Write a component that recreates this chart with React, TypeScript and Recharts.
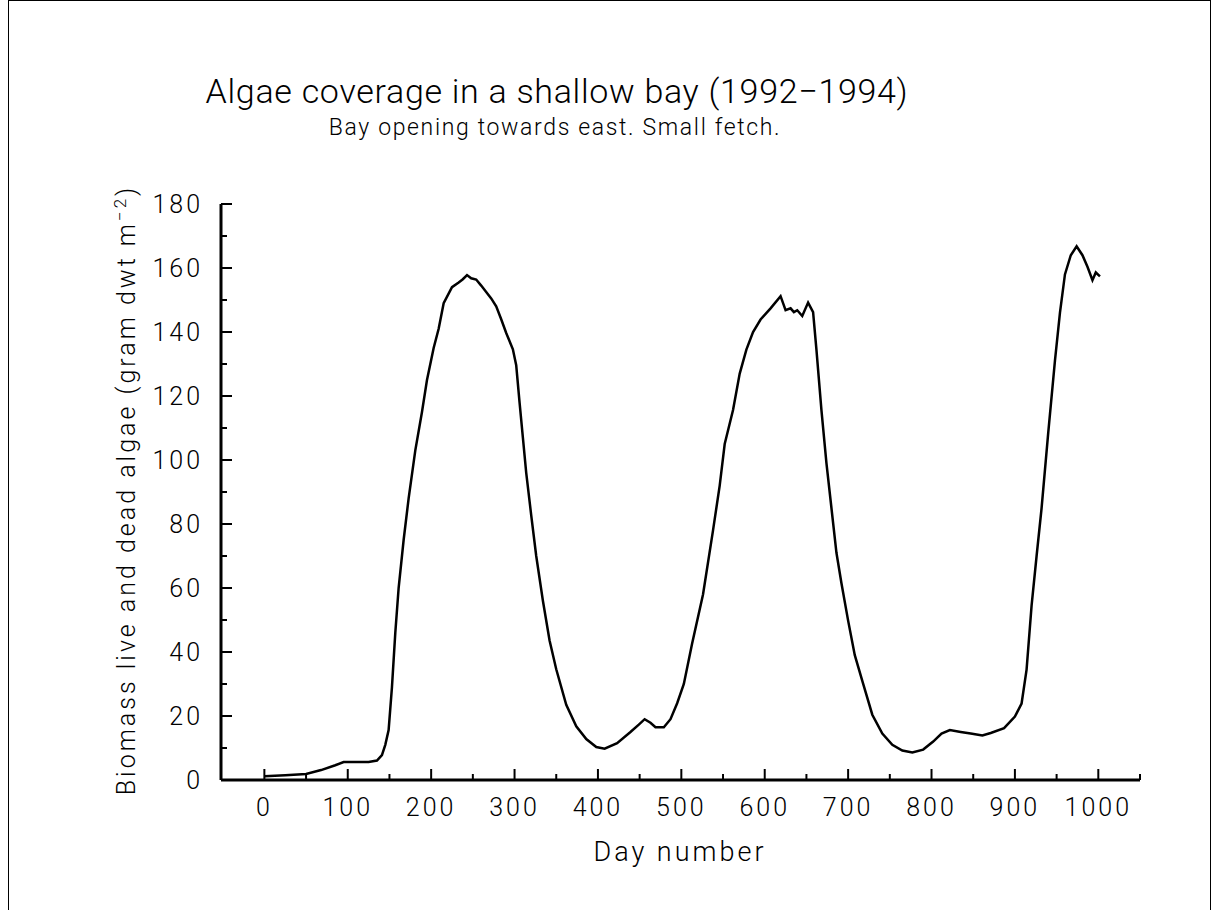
import React from 'react';
import { LineChart, Line, XAxis, YAxis, Label } from 'recharts';

// Model output: total biomass (live + dead algae) per simulation day
const days = [
  0, 25, 50, 68, 85, 95, 110, 125, 135, 141, 145, 149, 153, 157, 161, 167, 173, 181, 189, 195,
  203, 209, 215, 225, 233, 238, 243, 248, 254, 260, 266, 272, 278, 284, 290, 298, 302, 306, 310, 314,
  320, 326, 334, 342, 350, 362, 374, 386, 398, 408, 423, 439, 449, 456, 463, 469, 479, 487, 495, 503,
  513, 526, 538, 546, 552, 562, 570, 578, 586, 595, 607, 619, 625, 631, 635, 639, 645, 652, 658, 662,
  668, 674, 680, 686, 692, 700, 708, 717, 729, 741, 753, 765, 777, 790, 802, 812, 822, 835, 847, 861,
  871, 887, 900, 908, 914, 920, 926, 932, 940, 948, 954, 960, 967, 974, 981, 987, 993, 997, 1002,
];
const biomass = [
  1.2, 1.5, 1.9, 3.1, 4.6, 5.6, 5.6, 5.6, 6.1, 7.8, 11, 15.6, 29, 46, 60, 75, 88, 103, 115, 125,
  135, 141, 149, 154, 155.5, 156.5, 157.8, 156.8, 156.4, 154.5, 152.5, 150.5, 148, 144, 139.7, 134.6, 129.6, 118, 107, 96,
  82.7, 70, 56, 43.6, 34.6, 23.5, 16.8, 12.8, 10.3, 9.8, 11.5, 15, 17.3, 19, 17.9, 16.5, 16.5, 19, 24, 30,
  42.7, 58, 78, 92, 105, 115.6, 127, 134.5, 140, 143.9, 147.4, 151.2, 146.8, 147.4, 146.2, 146.8, 145, 149.2, 146.2, 134.5,
  115.6, 99, 85, 71, 61.5, 49.8, 39, 31, 20.4, 14.5, 11, 9.2, 8.6, 9.5, 12, 14.5, 15.6, 15, 14.5, 13.9,
  14.7, 16.2, 19.8, 23.9, 34.5, 54.5, 70, 85, 108.6, 131, 146, 158, 164, 166.8, 164, 160.4, 156.2, 158.6, 157.4,
];

// every 50 days; labelled every 100
const dayTicks = [0, 50, 100, 150, 200, 250, 300, 350, 400, 450, 500, 550, 600, 650, 700, 750, 800, 850, 900, 950, 1000, 1050];
// every 10; labelled every 20
const biomassTicks = [0, 10, 20, 30, 40, 50, 60, 70, 80, 90, 100, 110, 120, 130, 140, 150, 160, 170, 180];

const rows = days.map((d, i) => ({ day: d, biomass: biomass[i] }));

const FONT = 'Roboto, "DejaVu Sans", sans-serif';

const DayTick = (props: any) => {
  const { x, y, payload } = props;
  const major = payload.value % 100 === 0 && payload.value <= 1000;
  return (
    <g>
      <line x1={x} x2={x} y1={y} y2={y - (major ? 11 : 6)} stroke="#000" strokeWidth={2} />
      {major && (
        <text x={x} y={y + 36} textAnchor="middle" fontFamily={FONT} fontWeight={300} fontSize={25} letterSpacing={3} fill="#000">
          {payload.value}
        </text>
      )}
    </g>
  );
};

const BiomassTick = (props: any) => {
  const { x, y, payload } = props;
  const major = payload.value % 20 === 0;
  return (
    <g>
      <line x1={x} x2={x + (major ? 11 : 6)} y1={y} y2={y} stroke="#000" strokeWidth={2} />
      {major && (
        <text x={x - 18} y={y + 9} textAnchor="end" fontFamily={FONT} fontWeight={300} fontSize={25} letterSpacing={3} fill="#000">
          {payload.value}
        </text>
      )}
    </g>
  );
};

const BiomassLabel = () => (
  <text transform="translate(135,490) rotate(-90)" textAnchor="middle" fontFamily={FONT} fontWeight={300} fontSize={25} letterSpacing={3} fill="#000">
    Biomass live and dead algae (gram dwt m
    <tspan dy={-9} fontSize={17}>−2</tspan>
    <tspan dy={9}>)</tspan>
  </text>
);

const DayLabel = () => (
  <text x={680} y={861} textAnchor="middle" fontFamily={FONT} fontWeight={300} fontSize={27} letterSpacing={3} fill="#000">
    Day number
  </text>
);

export default function App() {
  return (
    <div style={{ position: 'absolute', left: 0, top: 0, width: 1212, height: 910, background: '#fff', overflow: 'hidden' }}>
      <div style={{ position: 'absolute', left: 8, top: 0, width: 1203, height: 940, border: '1px solid #000', boxSizing: 'border-box' }} />
      <svg width={1212} height={160} style={{ position: 'absolute', left: 0, top: 0 }}>
        <text x={557} y={103} textAnchor="middle" fontFamily={FONT} fontWeight={300} fontSize={34} letterSpacing={0.7} fill="#000">
          Algae coverage in a shallow bay (1992−1994)
        </text>
        <text x={555} y={135} textAnchor="middle" fontFamily={FONT} fontWeight={300} fontSize={23} letterSpacing={1.65} fill="#000">
          Bay opening towards east. Small fetch.
        </text>
      </svg>
      <div style={{ position: 'absolute', left: 0, top: 0 }}>
        <LineChart width={1212} height={910} data={rows} margin={{ top: 204, right: 72, bottom: 90, left: 151 }}>
          <XAxis
            dataKey="day"
            type="number"
            domain={[-52, 1050]}
            ticks={dayTicks}
            interval={0}
            height={40}
            tickSize={0}
            tickMargin={0}
            tickLine={false}
            axisLine={{ stroke: '#000', strokeWidth: 3 }}
            tick={<DayTick />}
            allowDataOverflow
          >
            <Label content={DayLabel} />
          </XAxis>
          <YAxis
            type="number"
            domain={[0, 180]}
            ticks={biomassTicks}
            interval={0}
            width={70}
            tickSize={0}
            tickMargin={0}
            tickLine={false}
            axisLine={{ stroke: '#000', strokeWidth: 3 }}
            tick={<BiomassTick />}
            allowDataOverflow
          >
            <Label content={BiomassLabel} />
          </YAxis>
          <Line
            type="linear"
            dataKey="biomass"
            stroke="#000"
            strokeWidth={2.5}
            dot={false}
            isAnimationActive={false}
          />
        </LineChart>
      </div>
    </div>
  );
}
